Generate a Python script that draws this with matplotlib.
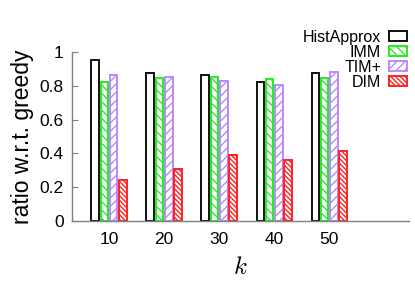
import matplotlib
matplotlib.use("Agg")
import matplotlib.pyplot as plt
import numpy as np

plt.rcParams['font.family'] = ['Liberation Sans', 'DejaVu Sans']
plt.rcParams['mathtext.fontset'] = 'cm'
plt.rcParams['hatch.linewidth'] = 1.0

categories = ['10', '20', '30', '40', '50']
series_names = ['HistApprox', 'IMM', 'TIM+', 'DIM']
hist_approx = [0.95, 0.873, 0.863, 0.822, 0.873]
imm = [0.822, 0.846, 0.852, 0.843, 0.846]
tim_plus = [0.864, 0.852, 0.830, 0.804, 0.882]
dim = [0.245, 0.305, 0.390, 0.362, 0.412]
y_ticks = [0, 0.2, 0.4, 0.6, 0.8, 1]

series = [hist_approx, imm, tim_plus, dim]
edgecolors = ['#111111', '#22ee22', '#bb88ff', '#ff2222']
hatches = [None, '\\\\\\\\', '////', '\\\\\\\\\\\\\\']

fig = plt.figure(figsize=(4.15, 2.91), dpi=100)
ax = fig.add_axes([72/415, 70/291, 337/415, 169/291])

x = np.arange(len(categories))
step = 0.167
width = 0.14
for i, (vals, ec, h, name) in enumerate(zip(series, edgecolors, hatches, series_names)):
    ax.bar(x + (i - 1.5) * step, vals, width, facecolor='white', edgecolor=ec,
           hatch=h, linewidth=1.4, label=name)

ax.set_xlim(-0.673, 5.45)
ax.set_ylim(0, 1)
ax.set_xticks(x)
ax.set_xticklabels(categories, fontsize=12.5)
ax.set_yticks(y_ticks)
ax.set_yticklabels(['0', '0.2', '0.4', '0.6', '0.8', '1'], fontsize=12.5)
ax.tick_params(axis='x', length=0, pad=8)
ax.tick_params(axis='y', direction='in', length=4, color='#808080', pad=6)
for s in ['top', 'right']:
    ax.spines[s].set_visible(False)
for s in ['left', 'bottom']:
    ax.spines[s].set_color('#808080')
    ax.spines[s].set_linewidth(1.0)

ax.set_ylabel('ratio w.r.t. greedy', fontsize=16.5, labelpad=4)
ax.set_xlabel('$k$', fontsize=18, labelpad=6)

leg = ax.legend(loc='upper right', bbox_to_anchor=(1.012, 1.17), frameon=False,
                markerfirst=False, fontsize=11.5, handlelength=1.1, handleheight=0.5,
                labelspacing=0.0, handletextpad=0.5, borderaxespad=0)
for t in leg.get_texts():
    t.set_ha('right')

fig.savefig('out.png', dpi=100)
